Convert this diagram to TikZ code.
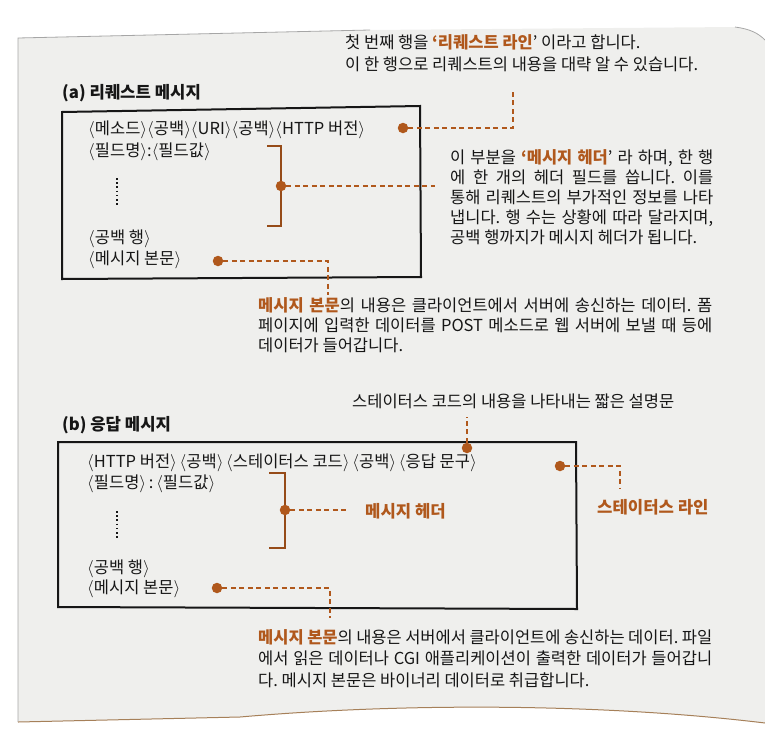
\documentclass[tikz,border=0pt]{standalone}
\usepackage{fontspec}
\setmainfont{Noto Sans CJK KR}
\usetikzlibrary{positioning}
\frenchspacing

\definecolor{paper}{RGB}{239,239,237}
\definecolor{ink}{RGB}{22,22,22}
\definecolor{accent}{RGB}{176,88,28}

\newcommand{\tg}[1]{$\langle$#1$\rangle$}
\newcommand{\jline}[2]{\makebox[#1][s]{#2}}
\newcommand{\hl}[1]{{\color{accent}\bfseries #1}}

\begin{document}
\begin{tikzpicture}[x=1pt,y=-1pt,font=\fontsize{16.5}{20}\selectfont,
  txt/.style={anchor=west,inner sep=0pt,text=ink},
  para/.style={anchor=north west,inner sep=0pt,align=left,text=ink},
  head/.style={anchor=west,inner sep=0pt,font=\fontsize{16.7}{18}\selectfont\bfseries},
  dot/.style={circle,fill=accent,inner sep=0pt,minimum size=10.5pt},
  leader/.style={accent,line width=2pt,dash pattern=on 5pt off 3.5pt},
  msgbox/.style={ink,line width=2pt},
  bracket/.style={accent!85!black,line width=1.8pt},
  vdots/.style={ink,line width=1.6pt,dash pattern=on 1.6pt off 2.6pt}]

\useasboundingbox (0,0) rectangle (765,731);

% page
\fill[paper] (18,38) -- (370,30) -- (735,27) .. controls (750,29) and (758,33) .. (765,40)
  -- (765,723) .. controls (600,703) and (400,703) .. (240,717) -- (18,722) -- cycle;
\draw[gray!70,line width=0.8pt] (765,40) .. controls (758,33) and (750,29) .. (735,27);
\draw[gray!70,line width=0.8pt] (370,30) -- (18,38) -- (18,722);
\draw[brown!60!gray,line width=1pt] (18,722) -- (240,717) .. controls (400,703) and (600,703) .. (765,723);

% (a) request
\node[head,text=ink] (reqTitle) at (62,93) {(a) 리퀘스트 메시지};
\draw[msgbox] (62,112) -- (420,106) -- (421,277) -- (62,279) -- cycle;

\node[txt] (reqLine) at (88,130) {\tg{메소드}\tg{공백}\tg{URI}\tg{공백}\tg{HTTP 버전}};
\node[txt] (reqField) at (88,152) {\tg{필드명}:\tg{필드값}};
\draw[vdots] (117,178) -- (117,206);
\node[txt] (reqBlank) at (88,239) {\tg{공백 행}};
\node[txt] (reqBody) at (88,260) {\tg{메시지 본문}};
\draw[bracket] (267,146) -- (281,146) -- (281,226) -- (267,226);

\node[dot] (reqLineDot) at (403,128) {};
\node[dot] (reqHdrDot) at (281,186) {};
\node[dot] (reqBodyDot) at (218,261) {};
\coordinate (reqLineBend) at (513,128);
\coordinate (reqLineEnd) at (513,90);
\coordinate (reqHdrEnd) at (435,186);
\coordinate (reqBodyBend) at (328,261);
\coordinate (reqBodyEnd) at (328,295);
\draw[leader] (reqLineDot) -- (reqLineBend) -- (reqLineEnd);
\draw[leader] (reqHdrDot) -- (reqHdrEnd);
\draw[leader] (reqBodyDot) -- (reqBodyBend) -- (reqBodyEnd);

\node[para,font=\fontsize{16.5}{22}\selectfont] (reqLineNote) at (345,34)
  {첫 번째 행을 \hl{‘리퀘스트 라인}’ 이라고 합니다.\\
   이 한 행으로 리퀘스트의 내용을 대략 알 수 있습니다.};
\node[para] (reqHdrNote) at (450,149)
  {\jline{263pt}{이 부분을 \hl{‘메시지 헤더}’ 라 하며, 한 행}\\
   \jline{263pt}{에 한 개의 헤더 필드를 씁니다. 이를}\\
   \jline{263pt}{통해 리퀘스트의 부가적인 정보를 나타}\\
   \jline{263pt}{냅니다. 행 수는 상황에 따라 달라지며,}\\
   공백 행까지가 메시지 헤더가 됩니다.};
\node[para] (reqBodyNote) at (258,297)
  {\jline{454pt}{\hl{메시지 본문}의 내용은 클라이언트에서 서버에 송신하는 데이터. 폼}\\
   \jline{454pt}{페이지에 입력한 데이터를 POST 메소드로 웹 서버에 보낼 때 등에}\\
   데이터가 들어갑니다.};

% (b) response
\node[para] (statusNote) at (352,394) {스테이터스 코드의 내용을 나타내는 짧은 설명문};
\node[head,text=ink] (resTitle) at (62,425) {(b) 응답 메시지};
\draw[msgbox] (58,442) -- (576,442) -- (577,609) -- (58,607) -- cycle;

\node[txt] (resLine) at (87,463) {\tg{HTTP 버전}\,\tg{공백}\,\tg{스테이터스 코드}\,\tg{공백}\,\tg{응답 문구}};
\node[txt] (resField) at (87,484) {\tg{필드명}\,:\,\tg{필드값}};
\draw[vdots] (117,511) -- (117,538);
\node[txt] (resBlank) at (87,569) {\tg{공백 행}};
\node[txt] (resBody) at (87,589) {\tg{메시지 본문}};
\draw[bracket] (269,473) -- (285,473) -- (285,548) -- (269,548);

\node[dot] (statusDot) at (467,448) {};
\node[dot] (resLineDot) at (560,466) {};
\node[dot] (resHdrDot) at (285,510) {};
\node[dot] (resBodyDot) at (217,588) {};
\coordinate (statusEnd) at (467,417);
\coordinate (resLineBend) at (620,466);
\coordinate (resLineEnd) at (620,489);
\coordinate (resHdrEnd) at (348,510);
\coordinate (resBodyBend) at (330,588);
\coordinate (resBodyEnd) at (330,618);
\draw[leader] (statusDot) -- (statusEnd);
\draw[leader] (resLineDot) -- (resLineBend) -- (resLineEnd);
\draw[leader] (resHdrDot) -- (resHdrEnd);
\draw[leader] (resBodyDot) -- (resBodyBend) -- (resBodyEnd);

\node[head,text=accent] (resHdrLabel) at (365,511) {메시지 헤더};
\node[head,text=accent] (resLineLabel) at (597,507) {스테이터스 라인};

\node[para,font=\fontsize{16.5}{21.5}\selectfont] (resBodyNote) at (258,629)
  {\jline{454pt}{\hl{메시지 본문}의 내용은 서버에서 클라이언트에 송신하는 데이터. 파일}\\
   \jline{454pt}{에서 읽은 데이터나 CGI 애플리케이션이 출력한 데이터가 들어갑니}\\
   다. 메시지 본문은 바이너리 데이터로 취급합니다.};
\end{tikzpicture}
\end{document}
